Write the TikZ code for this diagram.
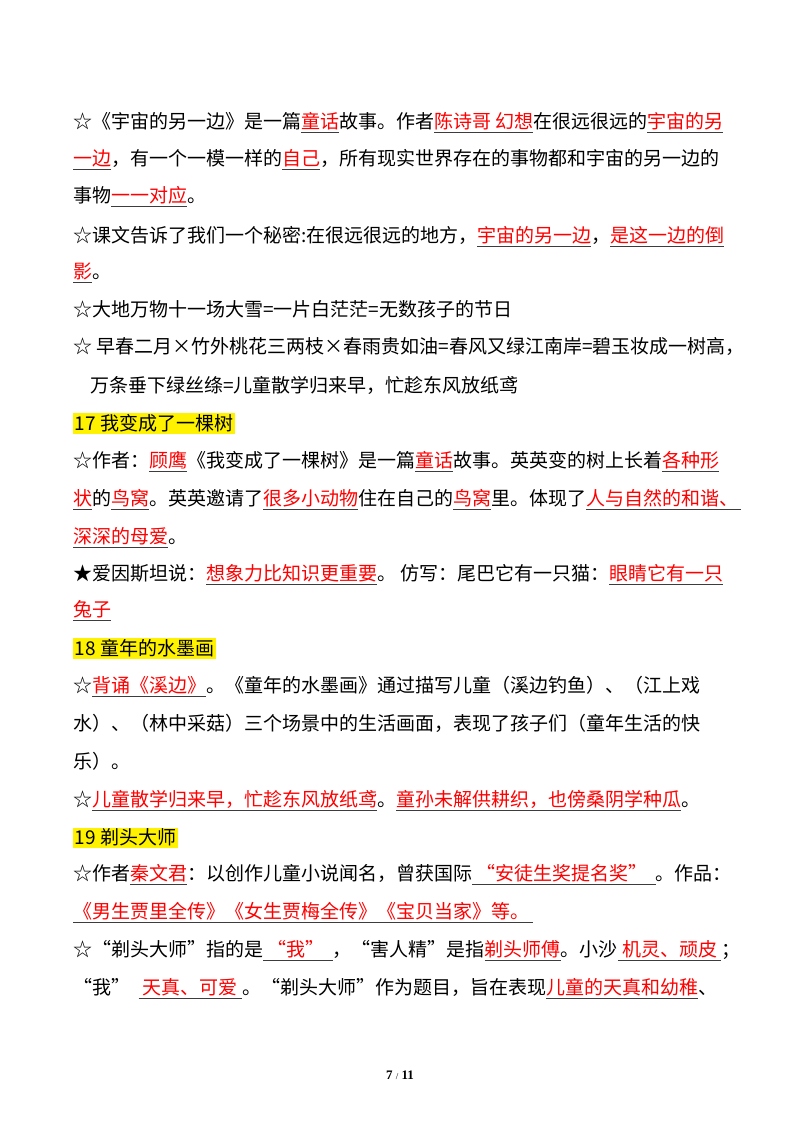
\documentclass[tikz,border=0pt]{standalone}
\usepackage{fontspec}
\setmainfont{Noto Sans CJK SC}
\newfontfamily\footfont{Liberation Serif}
\usetikzlibrary{positioning}
\definecolor{ulc}{RGB}{60,60,60}
\newcommand\ru[1]{{\color{ulc}\underline{\textcolor{red}{#1}}}}
\newcommand\bu[1]{{\color{ulc}\underline{#1}}}
\tikzset{ln/.style={anchor=base west,inner sep=0pt,font=\fontsize{19}{22}\selectfont},
hd/.style={ln,fill=yellow,inner sep=1.5pt}}
\begin{document}
\begin{tikzpicture}[x=1pt,y=1pt]
\useasboundingbox[fill=white] (0,0) rectangle (800,1132);
\newcommand\Y[1]{1132-#1-7}
\node[ln] (l1) at (73,{\Y{122}}) {☆《宇宙的另一边》是一篇\ru{童话}故事。作者\ru{陈诗哥\ 幻想}在很远很远的\ru{宇宙的另}};
\node[ln] (l2) at (73,{\Y{159}}) {\ru{一边}，有一个一模一样的\ru{自己}，所有现实世界存在的事物都和宇宙的另一边的};
\node[ln] (l3) at (73,{\Y{196}}) {事物\ru{一一对应}。};
\node[ln] (l4) at (73,{\Y{236}}) {☆课文告诉了我们一个秘密:在很远很远的地方，\ru{宇宙的另一边}，\ru{是这一边的倒}};
\node[ln] (l5) at (73,{\Y{272}}) {\ru{影}。};
\node[ln] (l6) at (73,{\Y{310}}) {☆大地万物十一场大雪=一片白茫茫=无数孩子的节日};
\node[ln] (l7) at (73,{\Y{347}}) {☆\ 早春二月×竹外桃花三两枝×春雨贵如油=春风又绿江南岸=碧玉妆成一树高，};
\node[ln] (l8) at (90,{\Y{386}}) {万条垂下绿丝绦=儿童散学归来早，忙趁东风放纸鸢};
\node[hd] (h17) at (73,{\Y{424}}) {17 我变成了一棵树};
\node[ln] (l10) at (73,{\Y{461}}) {☆作者：\ru{顾鹰}《我变成了一棵树》是一篇\ru{童话}故事。英英变的树上长着\ru{各种形}};
\node[ln] (l11) at (73,{\Y{499}}) {\ru{状}的\ru{鸟窝}。英英邀请了\ru{很多小动物}住在自己的\ru{鸟窝}里。体现了\ru{人与自然的和谐、\,}};
\node[ln] (l12) at (73,{\Y{537}}) {\ru{深深的母爱}。};
\node[ln] (l13) at (73,{\Y{574}}) {★爱因斯坦说：\ru{想象力比知识更重要}。\ 仿写：尾巴它有一只猫：\ru{眼睛它有一只}};
\node[ln] (l14) at (73,{\Y{610}}) {\ru{兔子}};
\node[hd] (h18) at (73,{\Y{649}}) {18 童年的水墨画};
\node[ln] (l16) at (73,{\Y{686}}) {☆\ru{背诵《溪边》}。《童年的水墨画》通过描写儿童（溪边钓鱼）、（江上戏};
\node[ln] (l17) at (73,{\Y{724}}) {水）、（林中采菇）三个场景中的生活画面，表现了孩子们（童年生活的快};
\node[ln] (l18) at (73,{\Y{762}}) {乐）。};
\node[ln] (l19) at (73,{\Y{800}}) {☆\ru{儿童散学归来早，忙趁东风放纸鸢}。\ru{童孙未解供耕织，也傍桑阴学种瓜}。};
\node[hd] (h19) at (73,{\Y{838}}) {19 剃头大师};
\node[ln] (l21) at (73,{\Y{874}}) {☆作者\ru{秦文君}：以创作儿童小说闻名，曾获国际\ru{\ “安徒生奖提名奖”\ \ }。作品：};
\node[ln] (l22) at (73,{\Y{912}}) {\ru{《男生贾里全传》《女生贾梅全传》《宝贝当家》等。\ }};
\node[ln] (l23) at (73,{\Y{950}}) {☆“剃头大师”指的是\ru{\ “我”\ \ }，“害人精”是指\ru{剃头师傅}。小沙\ru{\ 机灵、顽皮\ }；};
\node[ln] (l24) at (73,{\Y{988}}) {“我”\ \ \ru{\ 天真、可爱\ }。“剃头大师”作为题目，旨在表现\ru{儿童的天真和幼稚}、};
\node[anchor=center,inner sep=0pt,font=\footfont\bfseries\fontsize{13}{15}\selectfont] (ft) at (400,{1132-1075}) {7 {\mdseries\fontsize{9}{10}\selectfont/} 11};
\end{tikzpicture}
\end{document}
